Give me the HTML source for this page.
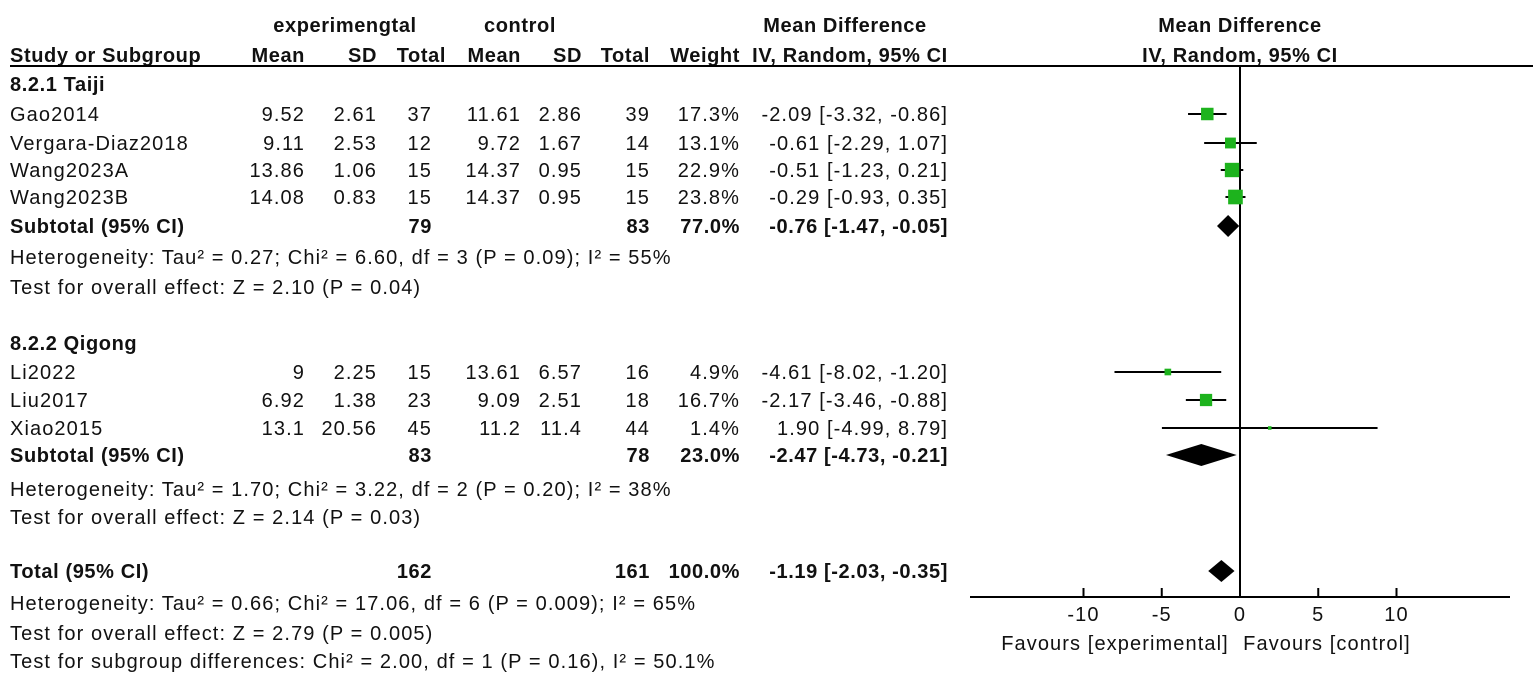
<!DOCTYPE html>
<html><head><meta charset="utf-8"><style>
html,body{margin:0;padding:0;background:#fff;}
svg{display:block;font-family:"Liberation Sans",Arial,sans-serif;}
text{font-size:20px;fill:#111;letter-spacing:1.1px;}
.b{font-weight:bold;letter-spacing:0.6px;}
</style></head><body>
<svg id="plot" width="1535" height="676" xmlns="http://www.w3.org/2000/svg"></svg>
<script>
const studies=["Gao2014","Vergara-Diaz2018","Wang2023A","Wang2023B","Li2022","Liu2017","Xiao2015"];
const expMean=["9.52","9.11","13.86","14.08","9","6.92","13.1"];
const expSD=["2.61","2.53","1.06","0.83","2.25","1.38","20.56"];
const expN=["37","12","15","15","15","23","45"];
const ctlMean=["11.61","9.72","14.37","14.37","13.61","9.09","11.2"];
const ctlSD=["2.86","1.67","0.95","0.95","6.57","2.51","11.4"];
const ctlN=["39","14","15","15","16","18","44"];
const weights=[17.3,13.1,22.9,23.8,4.9,16.7,1.4];
const md=[-2.09,-0.61,-0.51,-0.29,-4.61,-2.17,1.90];
const lo=[-3.32,-2.29,-1.23,-0.93,-8.02,-3.46,-4.99];
const hi=[-0.86,1.07,0.21,0.35,-1.20,-0.88,8.79];
const studyY=[114,143,170,197,372,400,428];
const sumLabels=["Subtotal (95% CI)","Subtotal (95% CI)","Total (95% CI)"];
const sumExpN=["79","83","162"];
const sumCtlN=["83","78","161"];
const sumWeight=["77.0%","23.0%","100.0%"];
const sumMd=[-0.76,-2.47,-1.19];
const sumLo=[-1.47,-4.73,-2.03];
const sumHi=[-0.05,-0.21,-0.35];
const sumY=[226,455,571];
const ticks=[-10,-5,0,5,10];

const svg=document.getElementById('plot');
const NS="http://www.w3.org/2000/svg";
function el(tag,attrs){const e=document.createElementNS(NS,tag);for(const k in attrs)e.setAttribute(k,attrs[k]);svg.appendChild(e);return e;}
function txt(x,y,s,anchor,bold,name){const t=el('text',{x:x,y:y,'text-anchor':anchor||'start'});if(bold)t.setAttribute('class','b');t.textContent=s;


return t;}
const X0=1240, PX=15.65;
function xs(v){return X0+v*PX;}
function fmt(v){return v.toFixed(2);}

txt(345,32,"experimengtal","middle",true,"header-experimental");
txt(520,32,"control","middle",true,"header-control");
txt(845,32,"Mean Difference","middle",true,"header-mean-difference");
txt(1240,32,"Mean Difference","middle",true,"header-plot-mean-difference");
txt(10,62,"Study or Subgroup","start",true,"header-study");
txt(305,62,"Mean","end",true,"header-exp-mean");
txt(377,62,"SD","end",true,"header-exp-sd");
txt(446,62,"Total","end",true,"header-exp-total");
txt(521,62,"Mean","end",true,"header-ctl-mean");
txt(582,62,"SD","end",true,"header-ctl-sd");
txt(650,62,"Total","end",true,"header-ctl-total");
txt(740,62,"Weight","end",true,"header-weight");
txt(850,62,"IV, Random, 95% CI","middle",true,"header-ci");
txt(1240,62,"IV, Random, 95% CI","middle",true,"header-plot-ci");
let l=el('line',{x1:10,y1:66,x2:1533,y2:66,stroke:'#000','stroke-width':2});



txt(10,91,"8.2.1 Taiji","start",true,"subgroup-taiji");
txt(10,350,"8.2.2 Qigong","start",true,"subgroup-qigong");

l=el('line',{x1:xs(0),y1:66,x2:xs(0),y2:597,stroke:'#000','stroke-width':2});



for(let i=0;i<studies.length;i++){
  const y=studyY[i];
  txt(10,y+7,studies[i],"start",false,"study-name");
  txt(305,y+7,expMean[i],"end",false,"exp-mean");
  txt(377,y+7,expSD[i],"end",false,"exp-sd");
  txt(432,y+7,expN[i],"end",false,"exp-total");
  txt(521,y+7,ctlMean[i],"end",false,"ctl-mean");
  txt(582,y+7,ctlSD[i],"end",false,"ctl-sd");
  txt(650,y+7,ctlN[i],"end",false,"ctl-total");
  txt(740,y+7,weights[i].toFixed(1)+"%","end",false,"weight");
  txt(948,y+7,fmt(md[i])+" ["+fmt(lo[i])+", "+fmt(hi[i])+"]","end",false,"effect-ci");
  const ci=el('line',{x1:xs(lo[i]),y1:y,x2:xs(hi[i]),y2:y,stroke:'#000','stroke-width':2});
  
  
  const s=Math.max(3,Math.sqrt(weights[i])*3);
  const r=el('rect',{x:xs(md[i])-s/2,y:y-s/2,width:s,height:s,fill:'#1db31d'});
  
  
}
for(let i=0;i<3;i++){
  const y=sumY[i];
  txt(10,y+7,sumLabels[i],"start",true,"summary-label");
  txt(432,y+7,sumExpN[i],"end",true,"summary-exp-total");
  txt(650,y+7,sumCtlN[i],"end",true,"summary-ctl-total");
  txt(740,y+7,sumWeight[i],"end",true,"summary-weight");
  txt(948,y+7,fmt(sumMd[i])+" ["+fmt(sumLo[i])+", "+fmt(sumHi[i])+"]","end",true,"summary-effect-ci");
  const h=11;
  const d=el('polygon',{points:`${xs(sumLo[i])},${y} ${xs(sumMd[i])},${y-h} ${xs(sumHi[i])},${y} ${xs(sumMd[i])},${y+h}`,fill:'#000'});
  
  
}
const notes=[[264,"Heterogeneity: Tau² = 0.27; Chi² = 6.60, df = 3 (P = 0.09); I² = 55%"],
[294,"Test for overall effect: Z = 2.10 (P = 0.04)"],
[496,"Heterogeneity: Tau² = 1.70; Chi² = 3.22, df = 2 (P = 0.20); I² = 38%"],
[524,"Test for overall effect: Z = 2.14 (P = 0.03)"],
[610,"Heterogeneity: Tau² = 0.66; Chi² = 17.06, df = 6 (P = 0.009); I² = 65%"],
[640,"Test for overall effect: Z = 2.79 (P = 0.005)"],
[668,"Test for subgroup differences: Chi² = 2.00, df = 1 (P = 0.16), I² = 50.1%"]];
for(const n of notes) txt(10,n[0],n[1],"start",false,"statistics-note");

l=el('line',{x1:970,y1:597,x2:1510,y2:597,stroke:'#000','stroke-width':2});


for(const t of ticks){
  const tk=el('line',{x1:xs(t),y1:588,x2:xs(t),y2:597,stroke:'#000','stroke-width':2});
  
  
  txt(xs(t),621,String(t),"middle",false,"x-tick-label");
}
txt(1115,650,"Favours [experimental]","middle",false,"favours-experimental");
txt(1327,650,"Favours [control]","middle",false,"favours-control");
</script>
</body></html>
